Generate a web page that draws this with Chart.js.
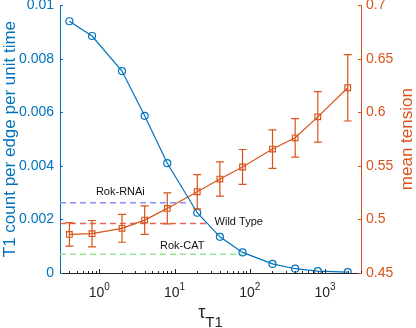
<!DOCTYPE html>
<html>
<head>
<meta charset="utf-8">
<script src="https://cdn.jsdelivr.net/npm/chart.js@4"></script>
<style>
html,body{margin:0;padding:0;background:#fff;}
</style>
</head>
<body>
<canvas id="myChart" width="416" height="328"></canvas>
<script>
// tau_T1 values (log x axis)
const tau=[0.4,0.8,2,4,8,20,40,80,200,400,800,2000];
// T1 count per edge per unit time (left axis)
const t1Rate=[0.0094,0.00885,0.00754,0.00587,0.0041,0.00225,0.00135,0.00077,0.00034,0.00016,0.00007,0.00003];
// mean tension (right axis) and its error
const tension=[0.486,0.4867,0.4917,0.4994,0.5103,0.5258,0.5377,0.549,0.5657,0.5762,0.5958,0.6229];
const tensionErr=[0.011,0.0123,0.013,0.0133,0.0145,0.016,0.016,0.0163,0.018,0.018,0.0236,0.031];
// reference levels (dashed lines)
const refNames=["Rok-RNAi","Wild Type","Rok-CAT"];
const refRates=[0.00262,0.00185,0.0007];
const refEnds=[15,27,80];
// axis ticks
const xTicks=[1,10,100,1000];
const xMin=0.3, xMax=3000;

const blue="#0072BD";
const orange="#D95319";
const axisGray="#262626";
const font="'Liberation Sans', Arial, sans-serif";
const refColors=["#8f8fff","#e8645a","#8fe88f"];
// where the reference names sit (x in data units, y offset from line in px)
const refLabelX=[0.9,34,6.4];
const refLabelDy=[-11,-1,-8];

const ctx=document.getElementById("myChart").getContext("2d");

// error bars, tick marks, x tick labels, titles
const extras={
  id:"extras",
  afterDatasetsDraw(chart){
    const c=chart.ctx;
    const xs=chart.scales.x, ys=chart.scales.y, yr=chart.scales.y1;
    const area=chart.chartArea;
    c.save();
    // error bars
    c.strokeStyle=orange;
    c.lineWidth=1.2;
    tau.forEach((t,i)=>{
      const x=xs.getPixelForValue(t);
      const lo=yr.getPixelForValue(tension[i]-tensionErr[i]);
      const hi=yr.getPixelForValue(tension[i]+tensionErr[i]);
      c.beginPath();
      c.moveTo(x,lo);c.lineTo(x,hi);
      c.moveTo(x-4,lo);c.lineTo(x+4,lo);
      c.moveTo(x-4,hi);c.lineTo(x+4,hi);
      c.stroke();
    });
    // reference labels
    c.fillStyle="#111";
    c.font="11px "+font;
    c.textBaseline="middle";
    c.textAlign="left";
    refNames.forEach((n,i)=>{
      c.fillText(n,xs.getPixelForValue(refLabelX[i]),ys.getPixelForValue(refRates[i])+refLabelDy[i]);
    });
    // x ticks (major + minor), inward
    c.strokeStyle=axisGray;
    c.lineWidth=1;
    c.beginPath();
    for(let d=-1;d<=3;d++){
      for(let m=1;m<10;m++){
        const v=m*Math.pow(10,d);
        if(v<xMin||v>xMax) continue;
        const x=Math.round(xs.getPixelForValue(v))+0.5;
        const len=m===1?4:2;
        c.moveTo(x,area.bottom);c.lineTo(x,area.bottom-len);
      }
    }
    c.stroke();
    // y ticks, inward
    c.strokeStyle=blue;
    c.beginPath();
    ys.ticks.forEach(t=>{
      const y=Math.round(ys.getPixelForValue(t.value))+0.5;
      c.moveTo(area.left,y);c.lineTo(area.left+3,y);
    });
    c.stroke();
    c.strokeStyle=orange;
    c.beginPath();
    yr.ticks.forEach(t=>{
      const y=Math.round(yr.getPixelForValue(t.value))+0.5;
      c.moveTo(area.right,y);c.lineTo(area.right-3,y);
    });
    c.stroke();
    // x tick labels 10^k
    c.fillStyle=axisGray;
    c.textBaseline="alphabetic";
    xTicks.forEach(v=>{
      const x=xs.getPixelForValue(v);
      const exp=String(Math.round(Math.log10(v)));
      c.font="14px "+font;
      const w1=c.measureText("10").width;
      c.font="10px "+font;
      const w2=c.measureText(exp).width;
      const x0=x-(w1+w2)/2;
      c.font="14px "+font;
      c.textAlign="left";
      c.fillText("10",x0,area.bottom+24);
      c.font="10px "+font;
      c.fillText(exp,x0+w1,area.bottom+17);
    });
    // x title tau_T1
    const cx=(area.left+area.right)/2;
    c.font="18px "+font;
    const wt=c.measureText("\u03c4").width;
    c.font="15px "+font;
    const ws=c.measureText("T1").width;
    const tx=cx-(wt+ws)/2;
    c.font="18px "+font;
    c.fillText("\u03c4",tx,area.bottom+45);
    c.font="15px "+font;
    c.fillText("T1",tx+wt,area.bottom+54);
    // right title, reads bottom to top
    c.fillStyle=orange;
    c.font="17px "+font;
    c.textAlign="center";
    c.textBaseline="middle";
    c.translate(407,(area.top+area.bottom)/2);
    c.rotate(-Math.PI/2);
    c.fillText("mean tension",0,0);
    c.restore();
  }
};

const datasets=[
  {
    label:"T1 rate",
    data:tau.map((t,i)=>({x:t,y:t1Rate[i]})),
    yAxisID:"y",
    borderColor:blue,
    borderWidth:1.2,
    pointStyle:"circle",
    pointRadius:3.5,
    pointBorderWidth:1.2,
    pointBorderColor:blue,
    pointBackgroundColor:"rgba(0,0,0,0)",
    order:1
  },
  {
    label:"tension",
    data:tau.map((t,i)=>({x:t,y:tension[i]})),
    yAxisID:"y1",
    borderColor:orange,
    borderWidth:1.2,
    pointStyle:"rect",
    pointRadius:4,
    pointBorderWidth:1.2,
    pointBorderColor:orange,
    pointBackgroundColor:"rgba(0,0,0,0)",
    order:2
  }
];
refNames.forEach((n,i)=>{
  datasets.push({
    label:n,
    data:[{x:xMin,y:refRates[i]},{x:refEnds[i],y:refRates[i]}],
    yAxisID:"y",
    borderColor:refColors[i],
    borderDash:[6,4],
    borderWidth:1.5,
    pointRadius:0,
    order:3
  });
});

const config={
  type:"line",
  data:{datasets},
  options:{
    responsive:false,
    animation:false,
    layout:{padding:{top:5,left:0,right:0,bottom:0}},
    plugins:{legend:{display:false},tooltip:{enabled:false}},
    scales:{
      x:{
        type:"logarithmic",
        position:"bottom",
        min:xMin,
        max:xMax,
        grid:{display:false,drawTicks:false},
        border:{display:true,color:axisGray,width:1},
        ticks:{display:false},
        afterFit(s){s.height=55;s.paddingLeft=0;s.paddingRight=0;}
      },
      y:{
        position:"left",
        min:0,
        max:0.01,
        grid:{display:false,drawTicks:false},
        border:{display:true,color:blue,width:1},
        ticks:{
          stepSize:0.002,
          color:blue,
          padding:6,
          font:{size:14,family:font},
          callback:v=>String(+v.toFixed(3))
        },
        title:{
          display:true,
          text:"T1 count per edge per unit time",
          color:blue,
          font:{size:17,family:font},
          padding:{top:0,bottom:0}
        },
        afterFit(s){s.width=60;s.paddingTop=0;s.paddingBottom=0;}
      },
      y1:{
        position:"right",
        min:0.45,
        max:0.7,
        grid:{display:false,drawTicks:false},
        border:{display:true,color:orange,width:1},
        ticks:{
          stepSize:0.05,
          color:orange,
          padding:5,
          font:{size:14,family:font},
          callback:v=>String(+v.toFixed(2))
        },
        afterFit(s){s.width=55;s.paddingTop=0;s.paddingBottom=0;}
      }
    }
  },
  plugins:[extras]
};

const myChart=new Chart(ctx,config);
</script>
</body>
</html>
